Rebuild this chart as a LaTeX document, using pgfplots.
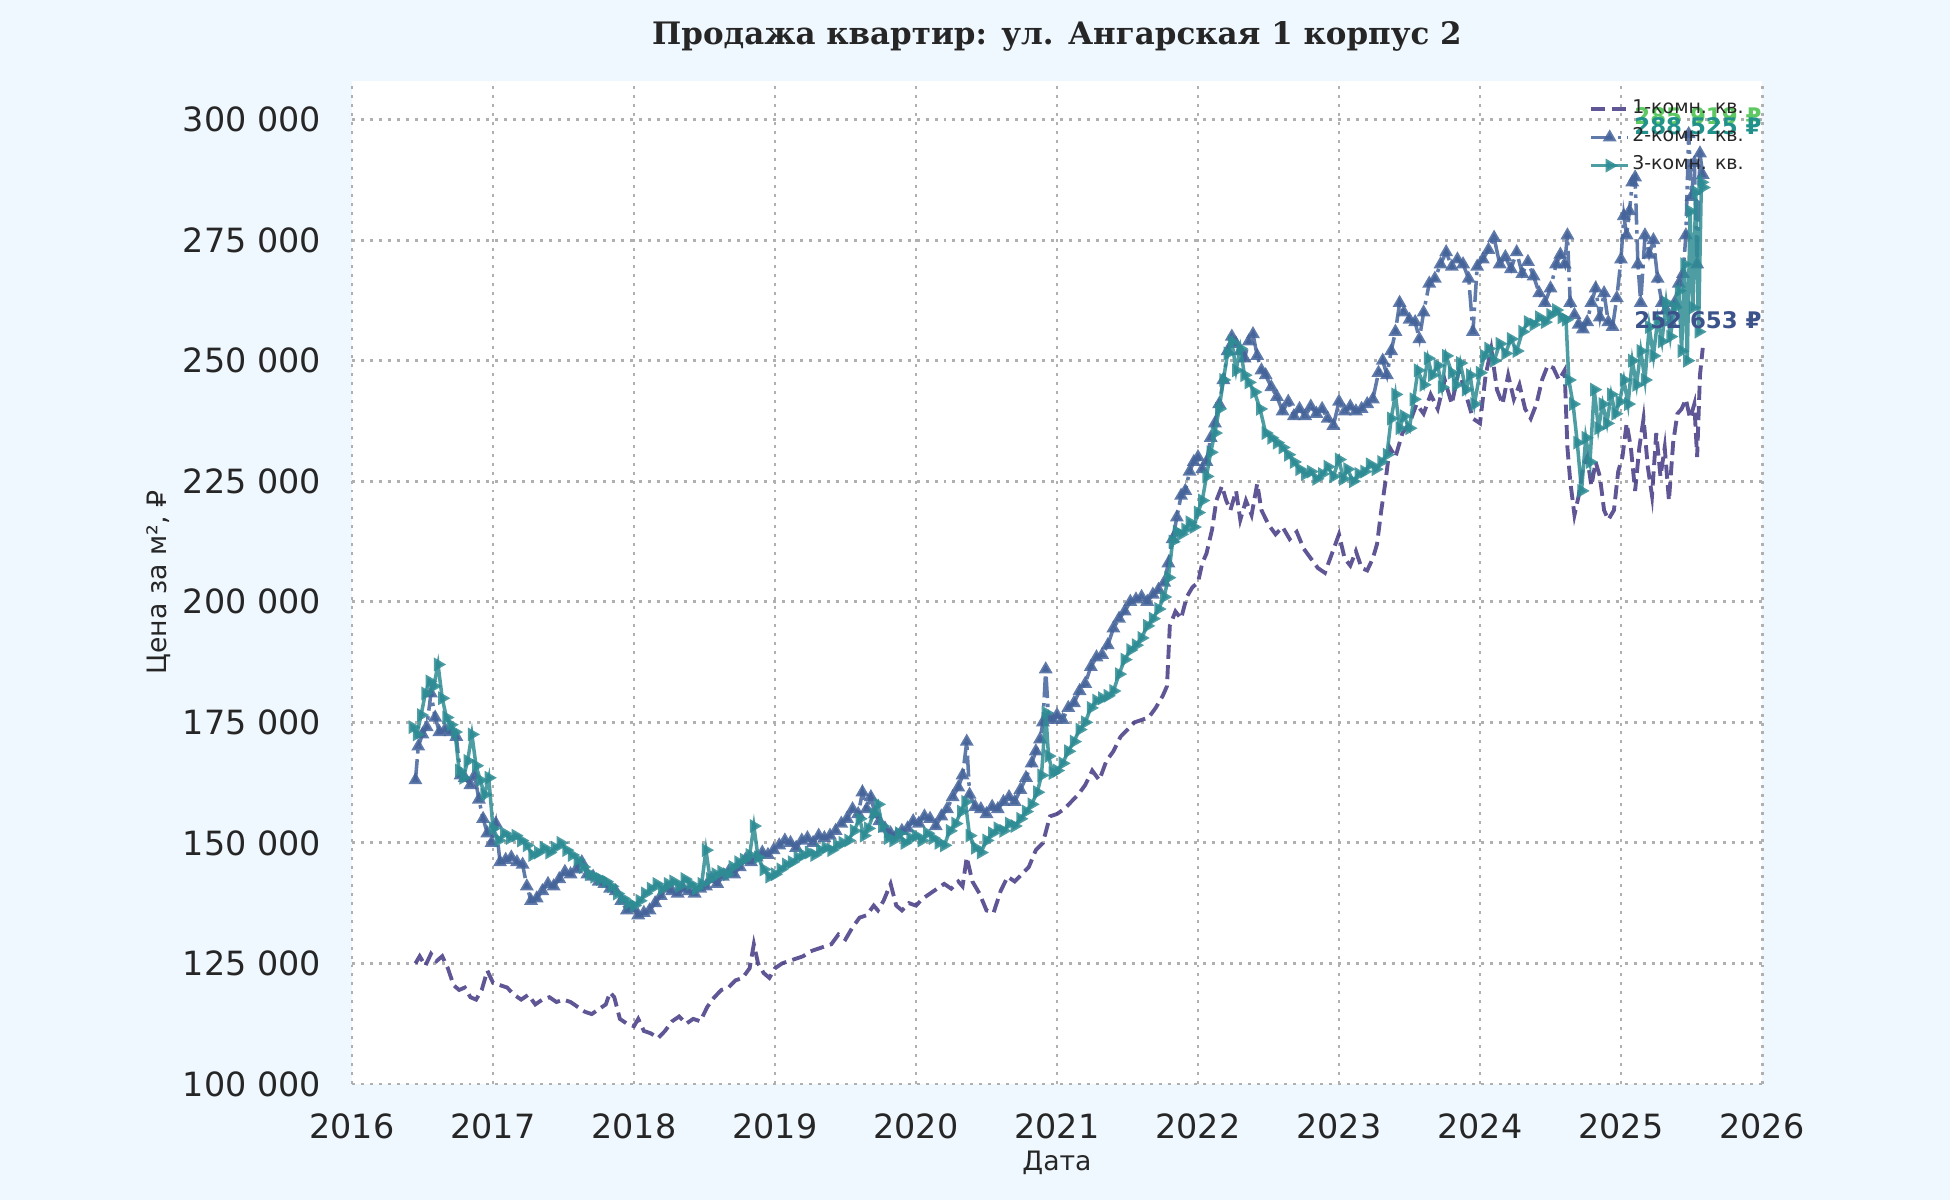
\documentclass[border=0pt]{standalone}
\usepackage{fontspec}
\setmainfont{DejaVu Sans}
\newfontfamily\titlefont{DejaVu Serif}
\usepackage{pgfplots}
\pgfplotsset{compat=1.18}
\usepackage{pgfplotstable}

\definecolor{bgcol}{HTML}{F0F8FF}
\definecolor{txt}{HTML}{262626}
\definecolor{gridc}{HTML}{B0B0B0}
\definecolor{c1}{HTML}{443983}
\definecolor{c2}{HTML}{45649A}
\definecolor{c3}{HTML}{2E8C94}
\definecolor{a1}{HTML}{3B528B}
\definecolor{a2}{HTML}{21918C}
\definecolor{a3}{HTML}{5EC962}

% 1-комн. кв.
\pgfplotstableread{
year price
2016.45 125000
2016.48 126500
2016.52 124500
2016.56 127000
2016.60 125500
2016.64 126500
2016.68 124000
2016.72 120500
2016.76 119500
2016.80 120000
2016.84 118000
2016.88 117500
2016.92 119500
2016.96 123500
2017.00 121000
2017.05 120500
2017.10 120000
2017.15 118500
2017.20 117500
2017.25 118500
2017.30 116500
2017.35 117500
2017.40 118000
2017.45 117000
2017.50 117500
2017.55 117000
2017.60 116000
2017.65 115000
2017.70 114500
2017.75 115500
2017.80 116500
2017.83 119000
2017.86 118000
2017.90 113500
2017.95 112500
2018.00 112000
2018.03 113500
2018.07 111000
2018.12 110500
2018.17 109500
2018.22 111000
2018.27 113000
2018.32 114000
2018.37 112500
2018.42 113500
2018.47 113000
2018.52 116000
2018.57 118000
2018.62 119500
2018.67 120000
2018.72 121500
2018.77 122000
2018.82 124000
2018.85 129000
2018.88 125000
2018.92 123000
2018.96 122000
2019.00 124000
2019.05 125000
2019.10 125500
2019.15 126000
2019.20 126500
2019.25 127500
2019.30 128000
2019.35 128500
2019.40 129000
2019.45 131000
2019.50 130000
2019.55 132500
2019.60 134500
2019.65 135000
2019.70 137000
2019.73 136000
2019.77 138000
2019.82 141500
2019.86 137000
2019.90 136000
2019.95 137500
2020.00 137000
2020.05 138500
2020.10 139500
2020.15 140500
2020.20 141500
2020.25 140500
2020.30 142000
2020.33 141000
2020.36 147000
2020.40 142000
2020.45 139500
2020.50 136000
2020.55 135500
2020.60 140000
2020.65 143000
2020.70 142000
2020.75 143500
2020.80 145000
2020.85 148500
2020.90 150000
2020.95 155500
2021.00 156000
2021.05 157000
2021.10 158500
2021.15 160000
2021.20 162000
2021.25 165000
2021.30 163000
2021.35 167000
2021.40 169000
2021.45 172000
2021.50 173500
2021.55 175000
2021.60 175500
2021.65 176000
2021.70 178000
2021.75 180500
2021.78 182500
2021.80 195000
2021.84 198000
2021.88 196500
2021.92 201000
2021.96 203000
2022.00 204000
2022.03 208000
2022.06 210000
2022.10 215000
2022.13 221000
2022.17 224000
2022.20 221000
2022.23 219000
2022.27 223000
2022.30 217000
2022.34 221000
2022.38 218000
2022.42 224500
2022.45 219000
2022.50 216000
2022.55 214000
2022.60 215500
2022.65 213000
2022.70 214500
2022.75 211000
2022.80 209000
2022.85 207000
2022.90 206000
2022.95 210000
2023.00 214000
2023.04 209000
2023.08 207500
2023.12 210500
2023.16 207000
2023.20 206500
2023.24 209000
2023.27 212000
2023.30 219000
2023.33 225000
2023.36 232000
2023.40 230000
2023.45 235000
2023.50 237000
2023.55 241000
2023.60 239000
2023.65 243000
2023.70 240000
2023.75 246000
2023.80 241000
2023.85 248000
2023.90 243000
2023.95 238000
2024.00 237000
2024.04 247000
2024.08 252500
2024.12 244000
2024.16 241000
2024.20 247000
2024.24 242000
2024.28 245000
2024.32 240000
2024.36 238000
2024.40 241000
2024.44 246000
2024.48 249000
2024.52 248500
2024.56 246000
2024.60 248000
2024.62 232000
2024.64 225000
2024.67 218000
2024.70 222000
2024.73 228000
2024.76 230000
2024.79 224000
2024.82 229000
2024.85 226000
2024.88 219000
2024.91 217000
2024.95 219000
2024.98 227000
2025.01 230000
2025.04 237000
2025.07 232000
2025.10 223000
2025.13 232000
2025.16 238000
2025.19 228000
2025.22 222000
2025.25 235000
2025.28 226000
2025.31 232000
2025.34 221000
2025.37 233000
2025.40 239000
2025.43 240000
2025.46 242000
2025.49 238000
2025.52 241000
2025.54 230000
2025.56 247000
2025.58 252653
}\oneroom

% 2-комн. кв.
\pgfplotstableread{
year price
2016.45 163000
2016.47 170000
2016.50 172500
2016.53 174000
2016.56 181000
2016.59 176000
2016.62 173000
2016.66 173500
2016.70 173000
2016.74 172000
2016.77 164000
2016.80 163500
2016.84 162000
2016.87 164000
2016.90 159000
2016.93 155000
2016.96 152000
2016.99 150000
2017.02 154000
2017.05 146000
2017.09 146500
2017.13 147000
2017.17 146000
2017.21 145500
2017.24 141000
2017.27 138000
2017.31 138500
2017.35 140000
2017.39 141500
2017.43 141000
2017.47 142500
2017.51 144000
2017.55 143500
2017.59 144500
2017.63 146000
2017.67 143500
2017.71 143000
2017.75 142000
2017.79 141500
2017.83 140500
2017.87 140000
2017.91 138000
2017.95 136000
2017.99 136500
2018.03 135000
2018.07 135500
2018.11 136000
2018.15 137500
2018.19 139000
2018.23 140500
2018.27 140000
2018.31 139500
2018.35 140500
2018.39 140000
2018.43 139500
2018.47 140500
2018.51 141000
2018.55 142500
2018.59 141500
2018.63 143000
2018.67 144000
2018.71 143500
2018.75 145000
2018.79 146500
2018.83 146000
2018.87 147000
2018.91 148000
2018.95 147500
2018.99 148500
2019.03 149500
2019.07 150500
2019.11 150000
2019.15 149000
2019.19 150500
2019.23 151000
2019.27 150000
2019.31 151500
2019.35 151000
2019.39 151500
2019.43 152500
2019.47 154000
2019.51 155000
2019.55 157000
2019.59 156000
2019.62 160500
2019.65 157000
2019.68 159500
2019.71 156000
2019.74 154500
2019.78 153000
2019.82 152000
2019.86 151500
2019.90 152500
2019.94 153000
2019.98 154500
2020.02 154000
2020.06 155500
2020.10 155000
2020.14 153500
2020.18 155500
2020.22 157000
2020.26 159500
2020.30 161500
2020.33 164000
2020.36 171000
2020.38 160000
2020.42 157500
2020.46 157000
2020.50 156000
2020.54 157500
2020.58 157000
2020.62 158500
2020.66 159500
2020.70 158500
2020.74 161000
2020.78 163500
2020.82 166500
2020.85 169000
2020.88 171500
2020.90 175000
2020.92 186000
2020.94 176000
2020.97 175500
2021.00 176500
2021.04 175500
2021.08 178000
2021.12 179000
2021.16 181500
2021.20 183000
2021.24 186500
2021.28 188500
2021.32 189000
2021.36 191000
2021.40 194500
2021.44 196500
2021.48 198000
2021.52 200000
2021.56 200500
2021.60 201000
2021.64 200000
2021.68 201500
2021.72 202500
2021.76 204000
2021.79 208000
2021.82 213000
2021.85 217500
2021.88 222000
2021.91 223000
2021.94 227000
2021.97 229000
2022.00 230000
2022.03 227500
2022.06 229000
2022.09 234000
2022.12 237000
2022.15 241000
2022.18 246000
2022.21 252000
2022.24 255000
2022.27 253500
2022.30 252000
2022.33 250500
2022.36 254000
2022.39 255500
2022.42 251000
2022.45 248000
2022.48 247000
2022.52 244500
2022.56 242500
2022.60 239500
2022.64 241500
2022.68 238500
2022.72 240000
2022.76 238500
2022.80 240500
2022.84 239000
2022.88 240000
2022.92 238000
2022.96 236500
2023.00 241500
2023.04 239500
2023.08 240500
2023.12 239500
2023.16 240000
2023.20 241000
2023.24 242000
2023.28 247500
2023.31 250000
2023.34 247000
2023.37 252000
2023.40 256000
2023.43 262000
2023.46 260000
2023.50 258500
2023.54 258000
2023.57 254500
2023.60 260000
2023.64 266000
2023.68 267000
2023.72 270000
2023.76 272500
2023.80 269500
2023.84 271000
2023.88 270000
2023.92 267000
2023.95 256000
2023.98 269500
2024.02 271000
2024.06 273000
2024.10 275500
2024.14 270000
2024.18 271500
2024.22 269000
2024.26 272500
2024.30 268000
2024.34 270500
2024.38 267500
2024.42 264000
2024.46 262000
2024.50 265000
2024.54 270000
2024.57 272000
2024.60 270000
2024.62 276000
2024.64 262000
2024.67 259500
2024.70 257500
2024.73 256500
2024.76 258000
2024.79 262000
2024.82 265000
2024.85 259000
2024.88 264000
2024.91 258000
2024.94 257000
2024.97 263000
2025.00 271000
2025.02 280000
2025.04 276000
2025.06 281000
2025.08 287000
2025.10 288000
2025.12 270000
2025.14 262000
2025.17 276000
2025.20 272000
2025.23 275000
2025.26 267000
2025.29 262000
2025.32 260500
2025.35 258000
2025.38 262000
2025.41 266000
2025.44 268000
2025.46 276000
2025.48 297000
2025.50 284000
2025.52 291000
2025.54 270000
2025.56 293000
2025.58 288525
}\tworoom

% 3-комн. кв.
\pgfplotstableread{
year price
2016.43 174000
2016.46 172500
2016.49 176500
2016.52 181000
2016.55 183500
2016.58 182500
2016.61 187000
2016.64 180000
2016.67 176000
2016.70 174500
2016.73 173000
2016.76 165000
2016.79 163500
2016.82 167000
2016.85 172500
2016.88 166000
2016.91 163000
2016.94 160000
2016.97 163500
2017.00 153000
2017.04 150500
2017.08 152000
2017.12 151000
2017.16 151500
2017.20 150500
2017.24 149500
2017.28 147500
2017.32 148000
2017.36 149000
2017.40 148000
2017.44 149000
2017.48 150000
2017.52 148500
2017.56 147500
2017.60 146500
2017.64 145000
2017.68 143500
2017.72 143000
2017.76 142500
2017.80 142000
2017.84 141000
2017.88 139500
2017.92 138500
2017.96 137500
2018.00 137000
2018.04 138000
2018.08 139500
2018.12 140500
2018.16 141500
2018.20 140500
2018.24 141500
2018.28 142000
2018.32 141000
2018.36 142500
2018.40 141500
2018.44 140500
2018.48 141500
2018.51 148500
2018.54 142500
2018.58 143500
2018.62 144000
2018.66 143500
2018.70 145000
2018.74 146000
2018.78 146500
2018.82 147500
2018.85 153500
2018.88 147000
2018.92 144500
2018.96 143000
2019.00 143500
2019.04 144500
2019.08 145500
2019.12 146000
2019.16 147000
2019.20 147500
2019.24 148000
2019.28 147500
2019.32 148500
2019.36 149000
2019.40 148500
2019.44 149500
2019.48 150000
2019.52 150500
2019.56 152500
2019.60 155000
2019.63 151500
2019.66 153000
2019.70 156000
2019.73 158000
2019.76 153500
2019.80 151000
2019.84 150500
2019.88 152000
2019.92 150000
2019.96 151000
2020.00 151500
2020.04 150500
2020.08 152000
2020.12 151000
2020.16 150000
2020.20 149500
2020.24 152500
2020.28 154000
2020.32 156500
2020.35 158500
2020.38 151500
2020.42 149000
2020.46 148000
2020.50 150500
2020.54 152000
2020.58 153000
2020.62 152500
2020.66 154000
2020.70 153500
2020.74 155000
2020.78 156500
2020.82 158000
2020.86 160500
2020.89 164000
2020.92 177000
2020.94 168000
2020.97 164500
2021.00 165000
2021.04 166500
2021.08 169000
2021.12 171000
2021.16 173500
2021.20 175000
2021.24 178000
2021.28 179500
2021.32 180000
2021.36 180500
2021.40 181500
2021.44 185000
2021.48 188000
2021.52 190000
2021.56 191000
2021.60 192500
2021.64 195000
2021.68 196500
2021.72 198500
2021.76 201000
2021.79 205000
2021.82 212500
2021.85 214500
2021.88 214000
2021.91 215000
2021.94 216500
2021.97 215500
2022.00 218500
2022.03 221000
2022.06 226000
2022.09 231000
2022.12 235000
2022.15 240000
2022.18 246000
2022.21 251500
2022.24 254000
2022.27 248000
2022.30 252500
2022.33 247000
2022.36 245500
2022.40 243500
2022.44 240000
2022.48 235000
2022.52 234000
2022.56 233000
2022.60 232000
2022.64 230500
2022.68 229000
2022.72 227500
2022.76 226500
2022.80 227000
2022.84 225500
2022.88 226500
2022.92 228000
2022.96 226000
2023.00 229500
2023.03 225500
2023.06 227500
2023.10 225000
2023.14 226500
2023.18 227000
2023.22 228500
2023.26 227500
2023.30 229000
2023.34 230500
2023.37 238000
2023.40 243000
2023.43 236000
2023.46 238500
2023.50 236000
2023.53 242000
2023.56 248000
2023.60 245000
2023.63 250500
2023.66 247000
2023.70 249000
2023.73 244500
2023.76 251000
2023.80 247500
2023.83 245000
2023.86 249500
2023.90 244000
2023.93 247000
2023.96 241000
2024.00 247500
2024.03 251000
2024.06 252500
2024.10 250000
2024.14 253500
2024.18 251500
2024.22 254500
2024.26 252000
2024.30 256000
2024.34 258000
2024.38 257500
2024.42 259000
2024.46 258000
2024.50 259500
2024.54 260500
2024.58 259000
2024.61 258500
2024.63 246000
2024.66 241000
2024.69 233000
2024.72 223000
2024.75 234000
2024.78 229000
2024.81 244000
2024.84 236000
2024.87 241000
2024.90 237000
2024.93 243000
2024.96 239000
2024.99 241500
2025.02 246000
2025.05 241000
2025.08 250000
2025.11 245000
2025.14 252000
2025.17 246000
2025.20 257000
2025.23 251000
2025.26 258500
2025.29 254000
2025.32 262000
2025.35 255000
2025.38 261000
2025.41 264500
2025.43 252000
2025.45 270000
2025.47 250000
2025.49 281000
2025.51 261000
2025.53 285000
2025.55 256000
2025.57 287000
2025.58 285919
}\threeroom

\begin{document}
\begin{tikzpicture}
\fill[bgcol, use as bounding box] (0,0) rectangle (19.5cm,12cm);
\begin{axis}[
  at={(3.52cm,1.16cm)}, anchor=south west,
  scale only axis, width=14.10cm, height=10.03cm,
  xmin=2016, xmax=2026, ymin=100000, ymax=308000,
  axis background/.style={fill=white},
  axis line style={draw=none},
  major tick length=0pt,
  scaled x ticks=false, scaled y ticks=false,
  xtick={2016,2017,2018,2019,2020,2021,2022,2023,2024,2025,2026},
  xticklabels={2016,2017,2018,2019,2020,2021,2022,2023,2024,2025,2026},
  ytick={100000,125000,150000,175000,200000,225000,250000,275000,300000},
  yticklabels={100 000,125 000,150 000,175 000,200 000,225 000,250 000,275 000,300 000},
  /pgf/number format/assume math mode=true,
  grid=major,
  major grid style={gridc, line width=0.85pt, dash pattern=on 0.85pt off 1.7pt},
  tick label style={font=\fontsize{9.5}{11}\selectfont, text=txt},
  yticklabel style={xshift=-5.3pt},
  xticklabel style={yshift=-4.8pt},
  xlabel={Дата}, ylabel={Цена за м², ₽},
  label style={font=\fontsize{7.6}{9}\selectfont, text=txt},
  xlabel style={at={(axis description cs:0.5,0)}, anchor=center, yshift=-0.79cm},
  ylabel style={at={(axis description cs:-0.137,0.5)}, anchor=center},
  title={\titlefont\bfseries Продажа квартир: ул. Ангарская 1 корпус 2},
  title style={at={(axis description cs:0.5,1)}, anchor=center, yshift=0.23cm,
    font=\fontsize{8.8}{10}\selectfont, text=txt},
  clip mode=individual,
  legend image code/.code={
    \draw[mark repeat=2,mark phase=2,#1] plot coordinates {(0cm,0cm) (0.185cm,0cm) (0.37cm,0cm)};},
  legend style={at={(axis description cs:0.877,0.984)}, anchor=north west,
    draw=none, fill=none, inner sep=0pt, row sep=1.3pt,
    nodes={inner sep=0.6pt},
    font=\fontsize{5.4}{6}\selectfont, text=txt},
  legend cell align=left,
]
\addplot[c1, opacity=0.85, line width=1.1pt, dash pattern=on 4pt off 1.8pt]
  table[x=year, y=price] {\oneroom};
\addlegendentry{1-комн. кв.}
\addplot[c2, opacity=0.85, line width=1pt, dash pattern=on 6pt off 1.6pt on 1pt off 1.6pt,
  mark=triangle*, mark size=1.3pt, mark options={solid}]
  table[x=year, y=price] {\tworoom};
\addlegendentry{2-комн. кв.}
\addplot[c3, opacity=0.85, line width=1pt,
  mark=triangle*, mark size=1.3pt, mark options={solid, rotate=-90}]
  table[x=year, y=price] {\threeroom};
\addlegendentry{3-комн. кв.}
\node[anchor=west, text=a3, font=\bfseries\fontsize{6.5}{7}\selectfont, inner sep=0pt]
  at (axis cs:2025.09,300800) {285 919 ₽};
\node[anchor=west, text=a2, font=\bfseries\fontsize{6.5}{7}\selectfont, inner sep=0pt]
  at (axis cs:2025.09,298700) {288 525 ₽};
\node[anchor=west, text=a1, font=\bfseries\fontsize{6.5}{7}\selectfont, inner sep=0pt]
  at (axis cs:2025.09,258500) {252 653 ₽};
\end{axis}
\end{tikzpicture}
\end{document}
